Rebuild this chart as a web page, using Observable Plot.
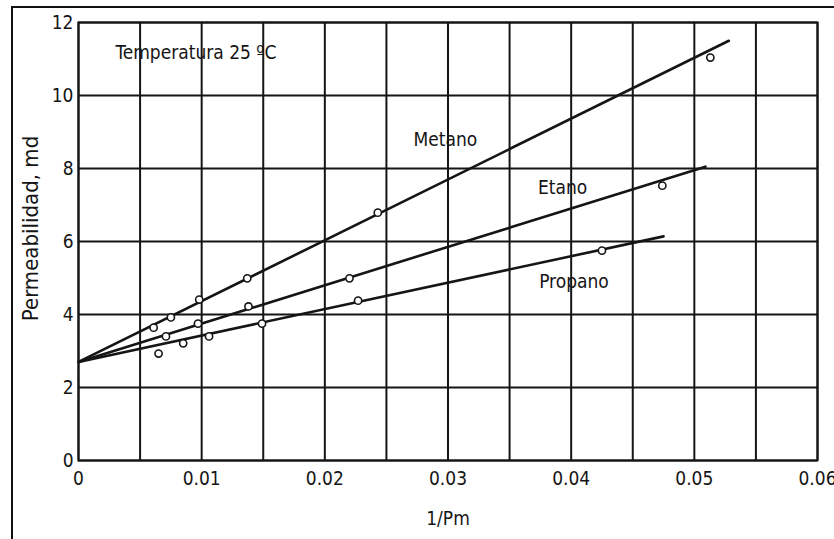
<!DOCTYPE html>
<html>
<head>
<meta charset="utf-8">
<script src="https://cdn.jsdelivr.net/npm/d3@7"></script>
<script src="https://cdn.jsdelivr.net/npm/@observablehq/plot@0.6"></script>
<style>
  html, body { margin: 0; padding: 0; background: #fff; }
  #wrap { position: relative; width: 834px; height: 539px; overflow: hidden; }
  #border { position: absolute; left: 11px; top: 6px; right: -4px; bottom: -4px; border-top: 2px solid #111; border-left: 2px solid #111; }
  #chart { position: absolute; left: 0; top: 0; }
</style>
</head>
<body>
<div id="wrap"><div id="border"></div><div id="chart"></div></div>
<script>
// Tick values
const xTicks = [0, 0.01, 0.02, 0.03, 0.04, 0.05, 0.06];
const xGrid = [0, 0.005, 0.01, 0.015, 0.02, 0.025, 0.03, 0.035, 0.04, 0.045, 0.05, 0.055, 0.06];
const yTicks = [0, 2, 4, 6, 8, 10, 12];

// Measured points (1/Pm, permeability md)
const metanoX = [0.0061, 0.0075, 0.0098, 0.0137, 0.0243, 0.0513];
const metanoY = [3.64, 3.92, 4.41, 4.99, 6.79, 11.04];
const etanoX = [0.0071, 0.0097, 0.0138, 0.0220, 0.0474];
const etanoY = [3.40, 3.75, 4.22, 4.99, 7.53];
const propanoX = [0.0065, 0.0085, 0.0106, 0.0149, 0.0227, 0.0425];
const propanoY = [2.93, 3.21, 3.40, 3.75, 4.38, 5.75];

// Fitted straight lines (start, end)
const metanoLineX = [0, 0.0528];
const metanoLineY = [2.7, 11.5];
const etanoLineX = [0, 0.0509];
const etanoLineY = [2.7, 8.05];
const propanoLineX = [0, 0.0475];
const propanoLineY = [2.7, 6.14];

// Annotation labels
const labelText = ["Temperatura 25 ºC", "Metano", "Etano", "Propano"];
const labelX = [0.0030, 0.0272, 0.0373, 0.0374];
const labelY = [11.18, 8.77, 7.48, 4.88];

const zip = (xs, ys) => xs.map((x, i) => ({x, y: ys[i]}));
const points = [...zip(metanoX, metanoY), ...zip(etanoX, etanoY), ...zip(propanoX, propanoY)];
const lines = [
  ...zip(metanoLineX, metanoLineY).map(d => ({...d, s: "Metano"})),
  ...zip(etanoLineX, etanoLineY).map(d => ({...d, s: "Etano"})),
  ...zip(propanoLineX, propanoLineY).map(d => ({...d, s: "Propano"}))
];
const labels = labelText.map((t, i) => ({t, x: labelX[i], y: labelY[i]}));

// pick a condensed font if available
function hasFont(name) {
  const c = document.createElement("canvas").getContext("2d");
  c.font = "40px monospace";
  const a = c.measureText("Permeabilidad 0.01").width;
  c.font = `40px "${name}", monospace`;
  const b = c.measureText("Permeabilidad 0.01").width;
  return Math.abs(a - b) > 0.5;
}
let font = "Liberation Sans, Arial, sans-serif", fs = 19, fsY = 21;
if (hasFont("Liberation Sans Narrow")) { font = '"Liberation Sans Narrow", sans-serif'; fs = 22; fsY = 24; }
else if (hasFont("DejaVu Sans Condensed")) { font = '"DejaVu Sans Condensed", sans-serif'; fs = 19; fsY = 22; }

const ink = "#151515";

const chart = Plot.plot({
  width: 834,
  height: 539,
  marginLeft: 78,
  marginRight: 17,
  marginTop: 22,
  marginBottom: 79,
  style: {fontFamily: font, fontSize: fs + "px", color: ink, background: "transparent"},
  x: {domain: [0, 0.06]},
  y: {domain: [0, 12]},
  marks: [
    Plot.gridX(xGrid, {stroke: ink, strokeOpacity: 1, strokeWidth: 2}),
    Plot.gridY(yTicks, {stroke: ink, strokeOpacity: 1, strokeWidth: 2}),
    Plot.frame({stroke: ink, strokeWidth: 2}),
    Plot.axisX(xTicks, {tickSize: 0, tickPadding: 11, tickFormat: d => String(d), label: null, fontSize: fs}),
    Plot.axisY(yTicks, {tickSize: 0, tickPadding: 5, label: null, fontSize: fs}),
    Plot.line(lines, {x: "x", y: "y", z: "s", stroke: ink, strokeWidth: 2.6}),
    Plot.dot(points, {x: "x", y: "y", r: 3.6, fill: "white", stroke: ink, strokeWidth: 1.6}),
    Plot.text(labels, {x: "x", y: "y", text: "t", textAnchor: "start", lineAnchor: "middle", fill: ink, fontSize: fs}),
    Plot.text(["1/Pm"], {frameAnchor: "bottom", dy: 58, lineAnchor: "middle", fill: ink, fontSize: fs}),
    Plot.text(["Permeabilidad, md"], {frameAnchor: "left", rotate: -90, dx: -48, dy: -13, textAnchor: "middle", lineAnchor: "middle", fill: ink, fontSize: fsY})
  ]
});
document.getElementById("chart").appendChild(chart);
</script>
</body>
</html>
